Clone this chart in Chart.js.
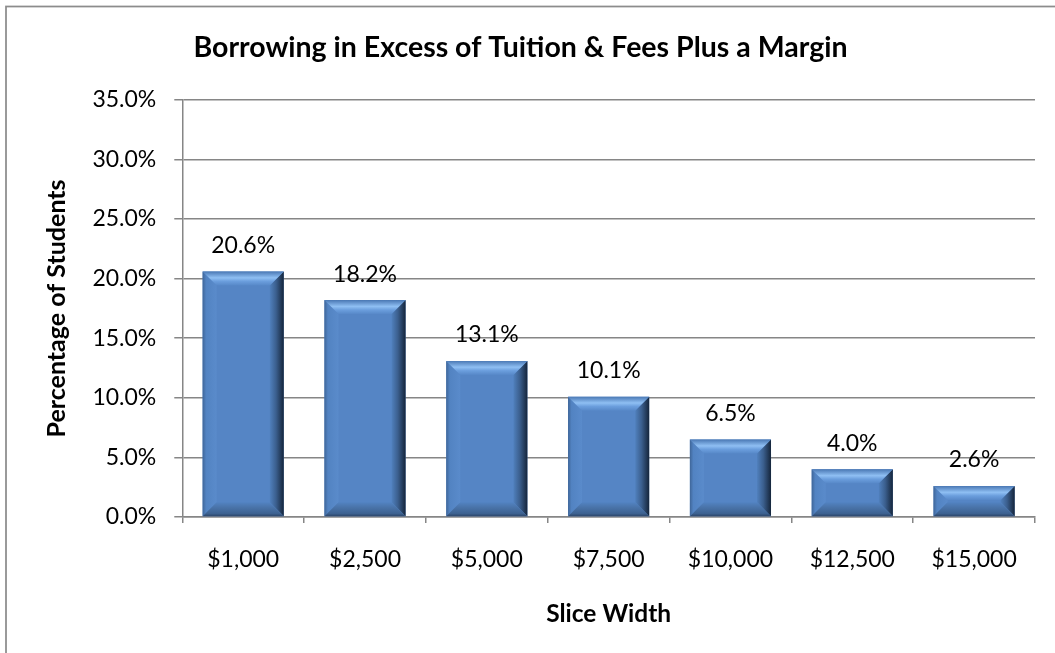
<!DOCTYPE html>
<html>
<head>
<meta charset="utf-8">
<script src="https://cdn.jsdelivr.net/npm/chart.js@4"></script>
<style>
  html, body { margin: 0; padding: 0; background: #fff; }
  canvas { display: block; }
</style>
</head>
<body>
<canvas id="c" width="1055" height="653"></canvas>
<script>
const chartTitle = 'Borrowing in Excess of Tuition & Fees Plus a Margin';
const xTitle = 'Slice Width';
const yTitle = 'Percentage of Students';
const categories = ['$1,000', '$2,500', '$5,000', '$7,500', '$10,000', '$12,500', '$15,000'];
const percentStudents = [20.6, 18.2, 13.1, 10.1, 6.5, 4.0, 2.6];
const yMin = 0, yMax = 35, yStep = 5;

const FONT = 'Lato';
const GRID = '#868686';

const framePlugin = {
  id: 'frame',
  beforeDraw(chart) {
    const ctx = chart.ctx;
    ctx.save();
    ctx.fillStyle = '#fff';
    ctx.fillRect(0, 0, chart.width, chart.height);
    ctx.strokeStyle = '#8c8c8c';
    ctx.lineWidth = 1.75;
    ctx.strokeRect(6, 6.5, chart.width + 20, chart.height + 20);
    ctx.restore();
  }
};

const bevelPlugin = {
  id: 'bevel',
  afterDatasetsDraw(chart) {
    const ctx = chart.ctx;
    const meta = chart.getDatasetMeta(0);
    ctx.save();
    meta.data.forEach((bar, i) => {
      const L = bar.x - bar.width / 2, R = bar.x + bar.width / 2;
      const T = bar.y, B = bar.base;
      const h = B - T, w = R - L;
      const b = Math.min(14, h / 2, w / 2);
      // left
      let g = ctx.createLinearGradient(L, 0, L + b, 0);
      g.addColorStop(0, '#3f6699'); g.addColorStop(0.25, '#5283c2'); g.addColorStop(1, '#5a8bcb');
      ctx.fillStyle = g;
      ctx.beginPath(); ctx.moveTo(L, T); ctx.lineTo(L + b, T + b); ctx.lineTo(L + b, B - b); ctx.lineTo(L, B); ctx.closePath(); ctx.fill();
      // right
      g = ctx.createLinearGradient(R - b, 0, R, 0);
      g.addColorStop(0, '#5080bd'); g.addColorStop(0.45, '#3b5f8e'); g.addColorStop(1, '#15253b');
      ctx.fillStyle = g;
      ctx.beginPath(); ctx.moveTo(R, T); ctx.lineTo(R - b, T + b); ctx.lineTo(R - b, B - b); ctx.lineTo(R, B); ctx.closePath(); ctx.fill();
      // top
      g = ctx.createLinearGradient(0, T, 0, T + b);
      g.addColorStop(0, '#4a78b4'); g.addColorStop(0.45, '#8fbff3'); g.addColorStop(0.7, '#6b9edd'); g.addColorStop(1, '#5788c8');
      ctx.fillStyle = g;
      ctx.beginPath(); ctx.moveTo(L, T); ctx.lineTo(R, T); ctx.lineTo(R - b, T + b); ctx.lineTo(L + b, T + b); ctx.closePath(); ctx.fill();
      // bottom
      g = ctx.createLinearGradient(0, B - b, 0, B);
      g.addColorStop(0, '#5283c2'); g.addColorStop(0.35, '#4a74aa'); g.addColorStop(0.8, '#3d6291'); g.addColorStop(1, '#2c4569');
      ctx.fillStyle = g;
      ctx.beginPath(); ctx.moveTo(L, B); ctx.lineTo(R, B); ctx.lineTo(R - b, B - b); ctx.lineTo(L + b, B - b); ctx.closePath(); ctx.fill();
    });
    // data labels
    ctx.fillStyle = '#000';
    ctx.font = '23px ' + FONT;
    ctx.textAlign = 'center';
    ctx.textBaseline = 'middle';
    meta.data.forEach((bar, i) => {
      ctx.fillText(percentStudents[i].toFixed(1) + '%', bar.x, bar.y - 26);
    });
    ctx.restore();
  }
};

new Chart(document.getElementById('c'), {
  type: 'bar',
  data: {
    labels: categories,
    datasets: [{
      data: percentStudents,
      backgroundColor: '#5585c5',
      borderWidth: 0,
      barPercentage: 0.666,
      categoryPercentage: 1.0
    }]
  },
  options: {
    responsive: false,
    animation: false,
    layout: { padding: { left: 6, right: 20, top: 0, bottom: 0 } },
    plugins: {
      legend: { display: false },
      tooltip: { enabled: false },
      title: {
        display: true,
        text: chartTitle,
        color: '#000',
        font: { family: FONT, size: 28.5, weight: 'bold' },
        padding: { top: 31, bottom: 34.7 }
      }
    },
    scales: {
      x: {
        offset: true,
        grid: { display: true, drawOnChartArea: false, drawTicks: true, tickLength: 6, color: GRID, lineWidth: 1.5, offset: true },
        border: { display: true, color: GRID, width: 1.5 },
        ticks: { color: '#000', font: { family: FONT, size: 23 }, padding: 23, maxRotation: 0 },
        title: { display: true, text: xTitle, color: '#000', font: { family: FONT, size: 24.5, weight: 'bold' }, padding: { top: 2.5, bottom: 24.5 } }
      },
      y: {
        min: yMin, max: yMax,
        grid: { color: GRID, lineWidth: 1.5, tickLength: 8 },
        border: { display: true, color: GRID, width: 1.5 },
        ticks: {
          stepSize: yStep,
          color: '#000',
          font: { family: FONT, size: 23 },
          padding: 18,
          callback: v => v.toFixed(1) + '%'
        },
        title: { display: true, text: yTitle, color: '#000', font: { family: FONT, size: 25, weight: 'bold' }, padding: { top: 36, bottom: 2.4 } }
      }
    }
  },
  plugins: [framePlugin, bevelPlugin]
});
</script>
</body>
</html>
